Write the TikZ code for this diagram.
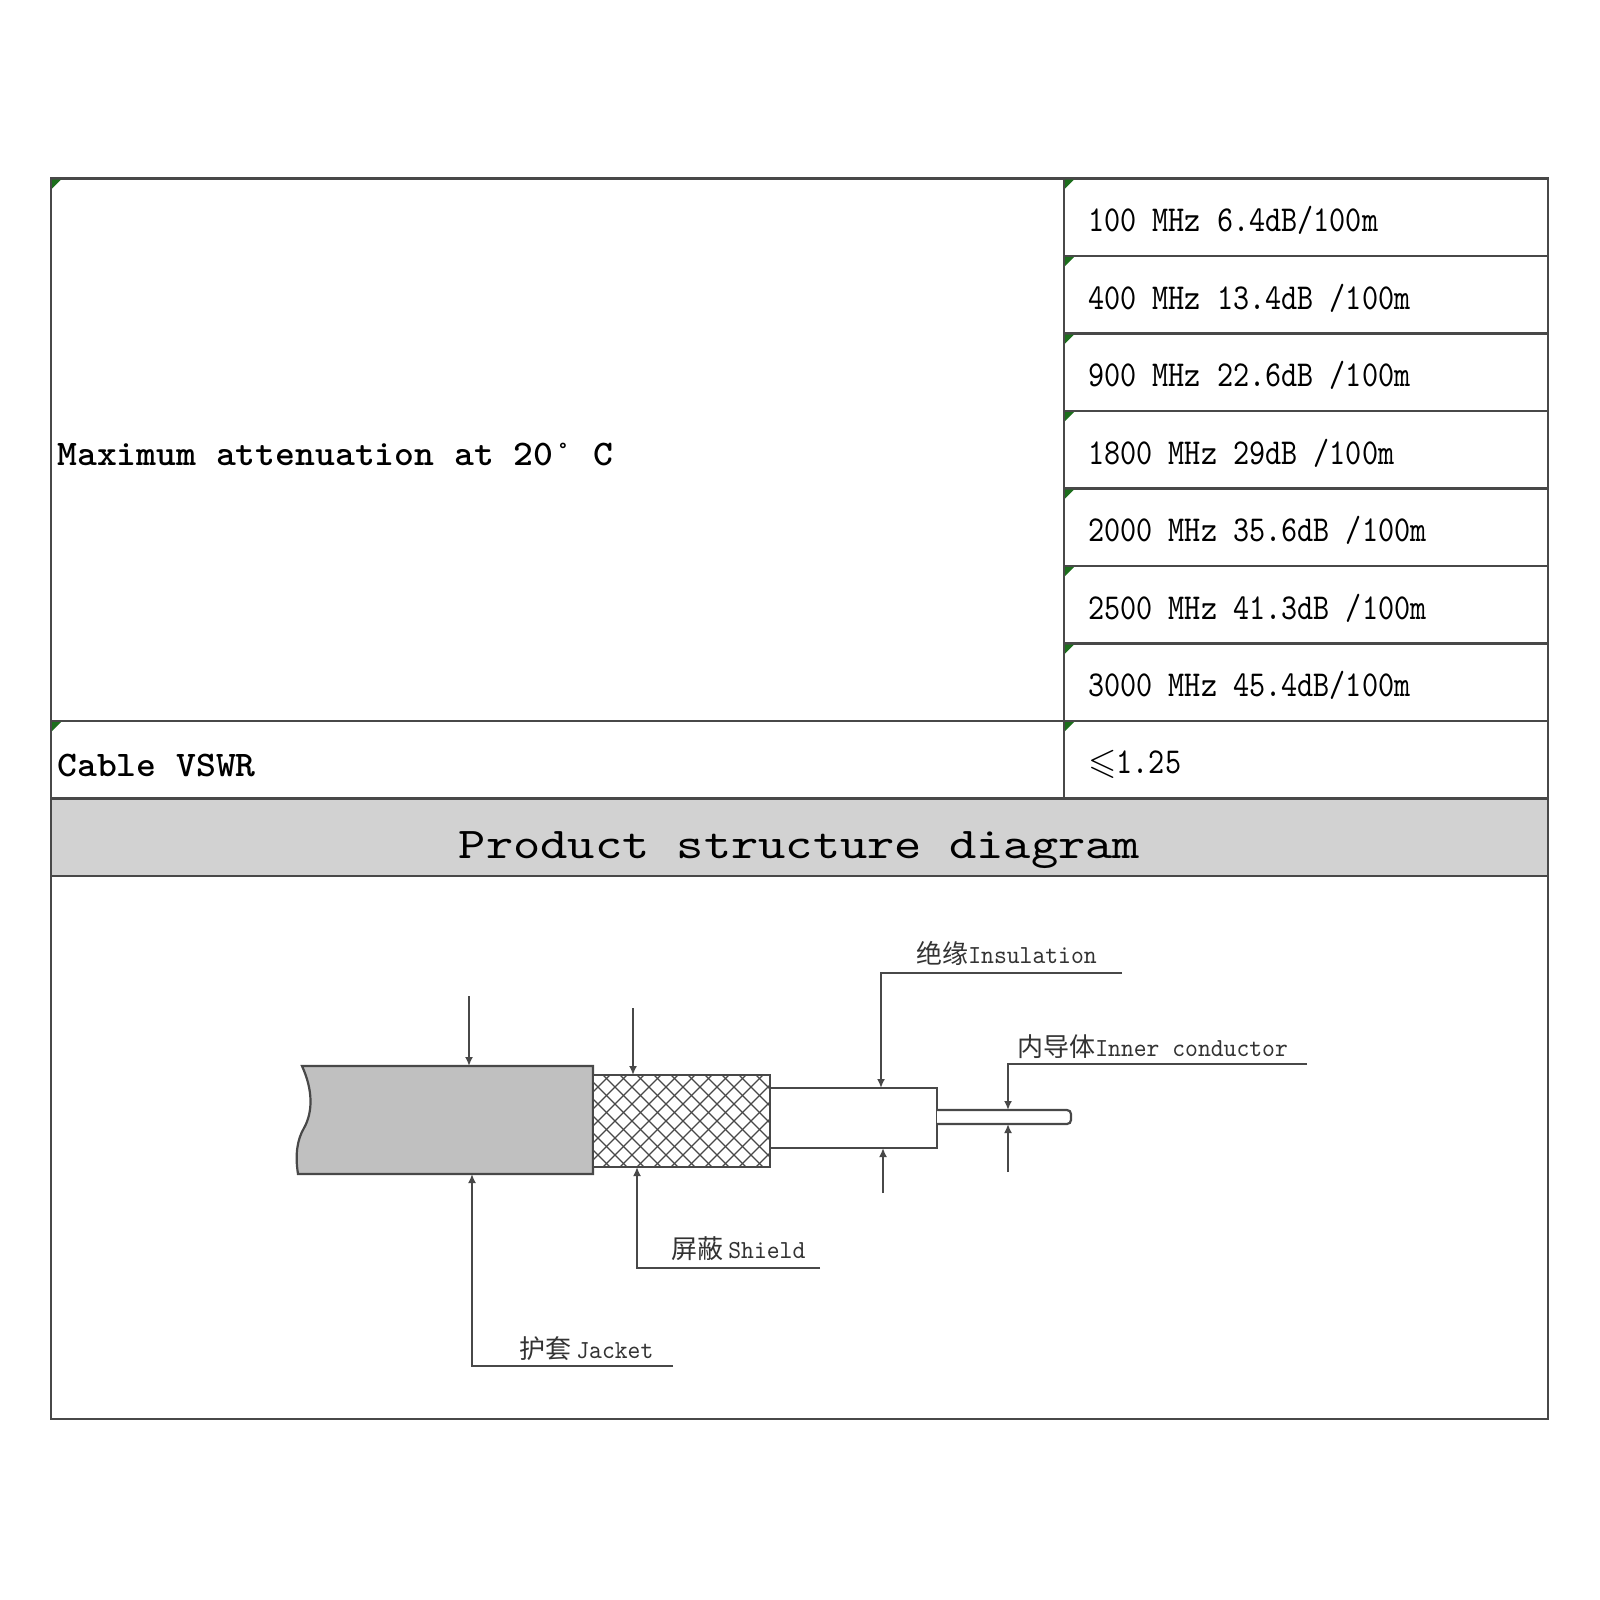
\documentclass[tikz,border=0pt]{standalone}
\usepackage{fontspec}
\usepackage{amssymb}
\usetikzlibrary{arrows.meta}
\newfontfamily\valfont{lmmono10-regular.otf}[FakeStretch=0.84]
\newfontfamily\keyfont{lmmonolt10-bold.otf}[FakeStretch=1.05]
\newfontfamily\headfont{lmmono10-regular.otf}[FakeStretch=1.18]
\newfontfamily\partfont{lmmono10-regular.otf}[FakeStretch=0.94]
\newfontfamily\cjkfont{Noto Sans CJK SC}
\definecolor{rulegray}{RGB}{72,72,72}
\definecolor{bandgray}{RGB}{210,210,210}
\definecolor{jacketgray}{RGB}{192,192,192}
\definecolor{markgreen}{RGB}{28,110,28}
\newcommand{\KeyTxt}[1]{\fontsize{18}{20}\selectfont\keyfont #1}
\newcommand{\ValTxt}[1]{\fontsize{18.25}{20}\selectfont\valfont #1}
\newcommand{\HeadTxt}[1]{\fontsize{22}{24}\selectfont\headfont #1}
\newcommand{\PartTxt}[2]{\fontsize{13}{15}\selectfont{\cjkfont #1}{\partfont #2}}

\begin{document}
\begin{tikzpicture}[x=0.5pt,y=-0.5pt,
    rulebox/.style={draw=rulegray, line width=1.3pt},
    txt/.style={anchor=base west, inner sep=0pt},
    partline/.style={draw=rulegray, line width=1.1pt},
    pin/.style={draw=rulegray, line width=1pt, -{Latex[length=4.5pt,width=4pt]}},
    hatch/.style={draw=rulegray, line width=0.65pt}]
  \useasboundingbox (0,0) rectangle (1600,1600);

  % table
  \fill[bandgray] (51,798.5) rectangle (1548,876);
  \draw[rulebox] (51,178.5) rectangle (1548,1419);
  \draw[rulebox] (1064,178.5) -- (1064,798.5);
  \foreach \i in {1,...,6}
    \draw[rulebox] (1064,178.5+77.5*\i) -- (1548,178.5+77.5*\i);
  \foreach \y in {721,798.5,876}
    \draw[rulebox] (51,\y) -- (1548,\y);
  \foreach \x/\y in {51/178.5,51/721}
    \fill[markgreen] (\x+1,\y+1) -- ++(9,0) -- ++(-9,9) -- cycle;
  \foreach \i in {0,...,7}
    \fill[markgreen] (1065,179.5+77.5*\i) -- ++(9,0) -- ++(-9,9) -- cycle;

  \node[txt] (maxatt) at (57,465) {\KeyTxt{Maximum attenuation at 20° C}};
  \node[txt] (vswr) at (57,776.5) {\KeyTxt{Cable VSWR}};
  \foreach \t [count=\i from 0] in {{100 MHz 6.4dB/100m},{400 MHz 13.4dB /100m},
      {900 MHz 22.6dB /100m},{1800 MHz 29dB /100m},{2000 MHz 35.6dB /100m},
      {2500 MHz 41.3dB /100m},{3000 MHz 45.4dB/100m}}
    \node[txt] (att\i) at (1088,231.5+77.5*\i) {\ValTxt{\t}};
  \node[txt] (vswrval) at (1088,773.5) {\ValTxt{$\leqslant$1.25}};
  \node[anchor=base, inner sep=0pt] (head) at (799.5,858) {\HeadTxt{Product structure diagram}};

  % cable
  \draw[partline, fill=jacketgray] (302,1066) -- (593,1066) -- (593,1174) -- (298,1174)
    .. controls (295,1155) and (297,1140) .. (304,1128)
    .. controls (313,1112) and (313,1090) .. (302,1066) -- cycle;
  \begin{scope}
    \clip (593,1075) rectangle (770,1167);
    \fill[white] (593,1075) rectangle (770,1167);
    \foreach \k in {0,...,16} {
      \draw[hatch] (501+17*\k,1167) -- ++(92,-92);
      \draw[hatch] (501+17*\k,1075) -- ++(92,92);
    }
  \end{scope}
  \draw[partline] (593,1075) rectangle (770,1167);
  \draw[partline, fill=white] (770,1088) rectangle (937,1148);
  \draw[partline, fill=white, rounded corners=2pt] (937,1110) -- (1071,1110) -- (1071,1124) -- (937,1124);

  \coordinate (jktTopIn) at (469,996);  \coordinate (jktTop) at (469,1066);
  \coordinate (shdTopIn) at (633,1008); \coordinate (shdTop) at (633,1075);
  \coordinate (insEnd) at (1122,973); \coordinate (insKnee) at (881,973); \coordinate (insTop) at (881,1088);
  \coordinate (insBotIn) at (883,1193); \coordinate (insBot) at (883,1148);
  \coordinate (conEnd) at (1307,1064); \coordinate (conKnee) at (1008,1064); \coordinate (conTop) at (1008,1110);
  \coordinate (conBotIn) at (1008,1172); \coordinate (conBot) at (1008,1124);
  \coordinate (shdEnd) at (820,1268); \coordinate (shdKnee) at (637,1268); \coordinate (shdBot) at (637,1167);
  \coordinate (jktEnd) at (673,1366); \coordinate (jktKnee) at (472,1366); \coordinate (jktBot) at (472,1174);

  \draw[pin] (jktTopIn) -- (jktTop);
  \draw[pin] (shdTopIn) -- (shdTop);
  \draw[pin] (insEnd) -- (insKnee) -- (insTop);
  \draw[pin] (insBotIn) -- (insBot);
  \draw[pin] (conEnd) -- (conKnee) -- (conTop);
  \draw[pin] (conBotIn) -- (conBot);
  \draw[pin] (shdEnd) -- (shdKnee) -- (shdBot);
  \draw[pin] (jktEnd) -- (jktKnee) -- (jktBot);

  \node[txt, text=black!80] (insLbl) at (916,963) {\PartTxt{绝缘}{Insulation}};
  \node[txt, text=black!80] (conLbl) at (1017,1056) {\PartTxt{内导体}{Inner conductor}};
  \node[txt, text=black!80] (shdLbl) at (671,1258) {\PartTxt{屏蔽\hspace{2.5pt}}{Shield}};
  \node[txt, text=black!80] (jktLbl) at (519,1358) {\PartTxt{护套\hspace{2.5pt}}{Jacket}};
\end{tikzpicture}
\end{document}
